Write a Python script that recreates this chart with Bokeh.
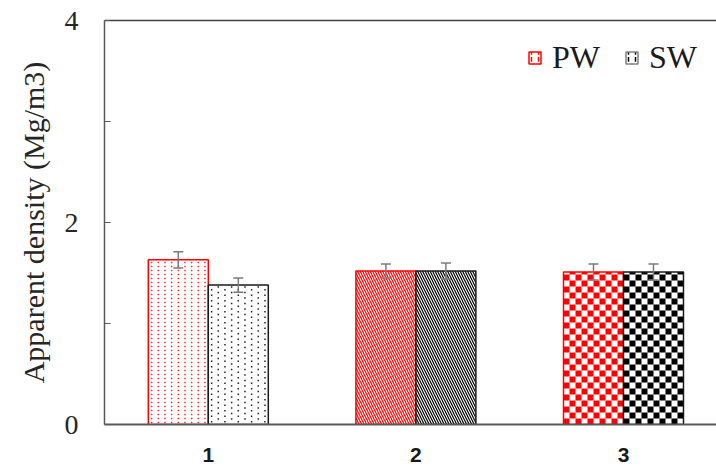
import math
from bokeh.plotting import figure
from bokeh.models import (ColumnDataSource, FixedTicker, LinearAxis, Range1d,
                          Whisker, TeeHead, Legend, LegendItem)
from bokeh.transform import dodge
from bokeh.embed import file_html
from bokeh.resources import INLINE

# Apparent density of the two wood types for three samples
samples = [1, 2, 3]
sample_labels = ["1", "2", "3"]
sample_fills = ["dots", "diagonal", "checker"]
pw_density = [1.63, 1.52, 1.51]
pw_error = [0.08, 0.07, 0.08]
sw_density = [1.38, 1.52, 1.51]
sw_error = [0.07, 0.08, 0.08]
y_ticks = [0, 1, 2, 3, 4]
y_tick_labels = ["0", "", "2", "", "4"]

RED = "#ff0000"
DARK = "#1a1a1a"
AXIS = "#595959"
BAR_W = 0.289
OFF = BAR_W / 2
X_RANGE = (0.5, 3.448)
Y_RANGE = (0, 4)
W, H = 716, 468
FRAME_W, FRAME_H = W - 104, H - 20 - 44
PX_X = FRAME_W / (X_RANGE[1] - X_RANGE[0])   # pixels per x unit
PX_Y = FRAME_H / (Y_RANGE[1] - Y_RANGE[0])   # pixels per y unit

src = ColumnDataSource(dict(
    x=samples,
    pw=pw_density,
    sw=sw_density,
    hatch=[" " if f != "diagonal" else "\\" for f in sample_fills],
    pw_up=[v + e for v, e in zip(pw_density, pw_error)],
    pw_lo=[v - e for v, e in zip(pw_density, pw_error)],
    sw_up=[v + e for v, e in zip(sw_density, sw_error)],
    sw_lo=[v - e for v, e in zip(sw_density, sw_error)],
))

p = figure(width=W, height=H, x_range=Range1d(*X_RANGE), y_range=Range1d(*Y_RANGE),
           output_backend="svg", toolbar_location=None,
           min_border_left=104, min_border_right=0, min_border_top=20, min_border_bottom=44)
p.outline_line_color = None
p.grid.visible = False
p.background_fill_color = "white"
p.border_fill_color = "white"


def dot_fill(centers, tops, dx_px, dy_px, stagger):
    """Grid of small dots filling each bar."""
    xs, ys = [], []
    ncol = int(round(BAR_W * PX_X / dx_px))
    step_x = BAR_W / ncol
    step_y = dy_px / PX_Y
    for c, t in zip(centers, tops):
        left = c - BAR_W / 2
        for i in range(ncol):
            x = left + (i + 0.5) * step_x
            y = step_y * (0.5 + (0.5 if (stagger and i % 2) else 0))
            while y < t - 0.015:
                xs.append(x)
                ys.append(y)
                y += step_y
    return xs, ys


def checker_fill(centers, tops, cell_px):
    """Alternating squares filling each bar."""
    l, r, b, tp = [], [], [], []
    ncol = int(round(BAR_W * PX_X / cell_px))
    cw = BAR_W / ncol
    ch = cell_px / PX_Y
    for c, t in zip(centers, tops):
        left = c - BAR_W / 2
        nrow = math.ceil(t / ch)
        for j in range(nrow):
            for i in range(ncol):
                if (i + j) % 2 == 0:
                    l.append(left + i * cw)
                    r.append(left + (i + 1) * cw)
                    b.append(j * ch)
                    tp.append(min((j + 1) * ch, t))
    return l, r, b, tp


series = [("pw", pw_density, -OFF, RED, RED, RED, "#ff2a2a"),
          ("sw", sw_density, OFF, DARK, "black", "black", "#222222")]
for name, vals, off, edge, hatch_col, fill_col, dot_col in series:
    # white bars with the diagonal hatch where needed
    p.vbar(x=dodge("x", off, range=p.x_range), top=name, width=BAR_W, source=src,
           fill_color="white", line_color=None,
           hatch_pattern="hatch", hatch_color=hatch_col, hatch_scale=5,
           hatch_weight=1.2)

    dot_idx = [i for i, f in enumerate(sample_fills) if f == "dots"]
    dxs, dys = dot_fill([samples[i] + off for i in dot_idx], [vals[i] for i in dot_idx],
                        6.6, 4.0 if name == "pw" else 5.5, stagger=(name == "sw"))
    p.scatter(dxs, dys, marker="square", size=1.5, fill_color=dot_col, line_color=None)

    chk_idx = [i for i, f in enumerate(sample_fills) if f == "checker"]
    cl, cr, cb, ct = checker_fill([samples[i] + off for i in chk_idx],
                                  [vals[i] for i in chk_idx], 6.0)
    p.quad(left=cl, right=cr, bottom=cb, top=ct, fill_color=fill_col, line_color=None)

    # bar outlines on top of the fills
    p.vbar(x=dodge("x", off, range=p.x_range), top=name, width=BAR_W, source=src,
           fill_color=None, line_color=edge, line_width=1.5)

for col, off in (("pw", -OFF), ("sw", OFF)):
    w = Whisker(source=src, base=dodge("x", off, range=p.x_range),
                upper=col + "_up", lower=col + "_lo",
                line_color="#7a7a7a", line_width=1.5, level="annotation",
                upper_head=TeeHead(size=10, line_color="#7a7a7a", line_width=1.5),
                lower_head=TeeHead(size=10, line_color="#7a7a7a", line_width=1.5))
    p.add_layout(w)

# left axis: inward ticks every unit, labels every two
ya = p.yaxis[0]
ya.ticker = FixedTicker(ticks=y_ticks)
ya.major_label_overrides = {t: s for t, s in zip(y_ticks, y_tick_labels)}
ya.major_tick_in = 6
ya.major_tick_out = 0
ya.minor_tick_line_color = None
ya.axis_line_color = AXIS
ya.axis_line_width = 1.5
ya.major_tick_line_color = AXIS
ya.major_tick_line_width = 1.2
ya.major_label_standoff = 26
ya.major_label_text_font = "Liberation Serif"
ya.major_label_text_font_size = "28px"
ya.major_label_text_color = "#262626"
ya.axis_label = "Apparent density (Mg/m3)"
ya.axis_label_text_font = "Liberation Serif"
ya.axis_label_text_font_size = "30px"
ya.axis_label_text_font_style = "normal"
ya.axis_label_text_color = "#262626"
ya.axis_label_standoff = 12

# bottom axis: sample numbers, no tick marks
xa = p.xaxis[0]
xa.ticker = FixedTicker(ticks=samples)
xa.major_label_overrides = {s: l for s, l in zip(samples, sample_labels)}
xa.major_tick_in = 0
xa.major_tick_out = 0
xa.minor_tick_line_color = None
xa.axis_line_color = AXIS
xa.axis_line_width = 2
xa.major_label_standoff = 23
xa.major_label_text_font = "Liberation Sans"
xa.major_label_text_font_style = "bold"
xa.major_label_text_font_size = "21px"
xa.major_label_text_color = "#1a1a1a"

# top frame line
top = LinearAxis(ticker=FixedTicker(ticks=[]), major_label_text_font_size="0px",
                 major_tick_in=0, major_tick_out=0, minor_tick_line_color=None,
                 axis_line_color="#404040", axis_line_width=1.5)
p.add_layout(top, "above")

# legend swatches: hidden bars whose style is shown as outlined squares with short dashes
key_src = ColumnDataSource(dict(x=samples[:1], pw=pw_density[:1], sw=sw_density[:1]))
key_pw = p.vbar(x="x", top="pw", width=BAR_W, source=key_src, fill_color="white",
                line_color=RED, line_width=1.5, hatch_pattern=":", hatch_color=RED,
                hatch_scale=7, hatch_weight=1.5, visible=False)
key_sw = p.vbar(x="x", top="sw", width=BAR_W, source=key_src, fill_color="white",
                line_color="#808080", line_width=1.5, hatch_pattern=":", hatch_color="black",
                hatch_scale=7, hatch_weight=1.5, visible=False)

legend = Legend(items=[LegendItem(label="PW", renderers=[key_pw]),
                       LegendItem(label="SW", renderers=[key_sw])],
                orientation="horizontal", location=(423, 348), click_policy="none",
                border_line_color=None, background_fill_alpha=0,
                label_text_font="Liberation Serif", label_text_font_size="32px",
                label_text_color="#1a1a1a",
                glyph_width=15, glyph_height=15, label_standoff=10, spacing=24,
                padding=0, margin=0)
p.add_layout(legend)

open("out.html", "w").write(file_html(p, INLINE))
